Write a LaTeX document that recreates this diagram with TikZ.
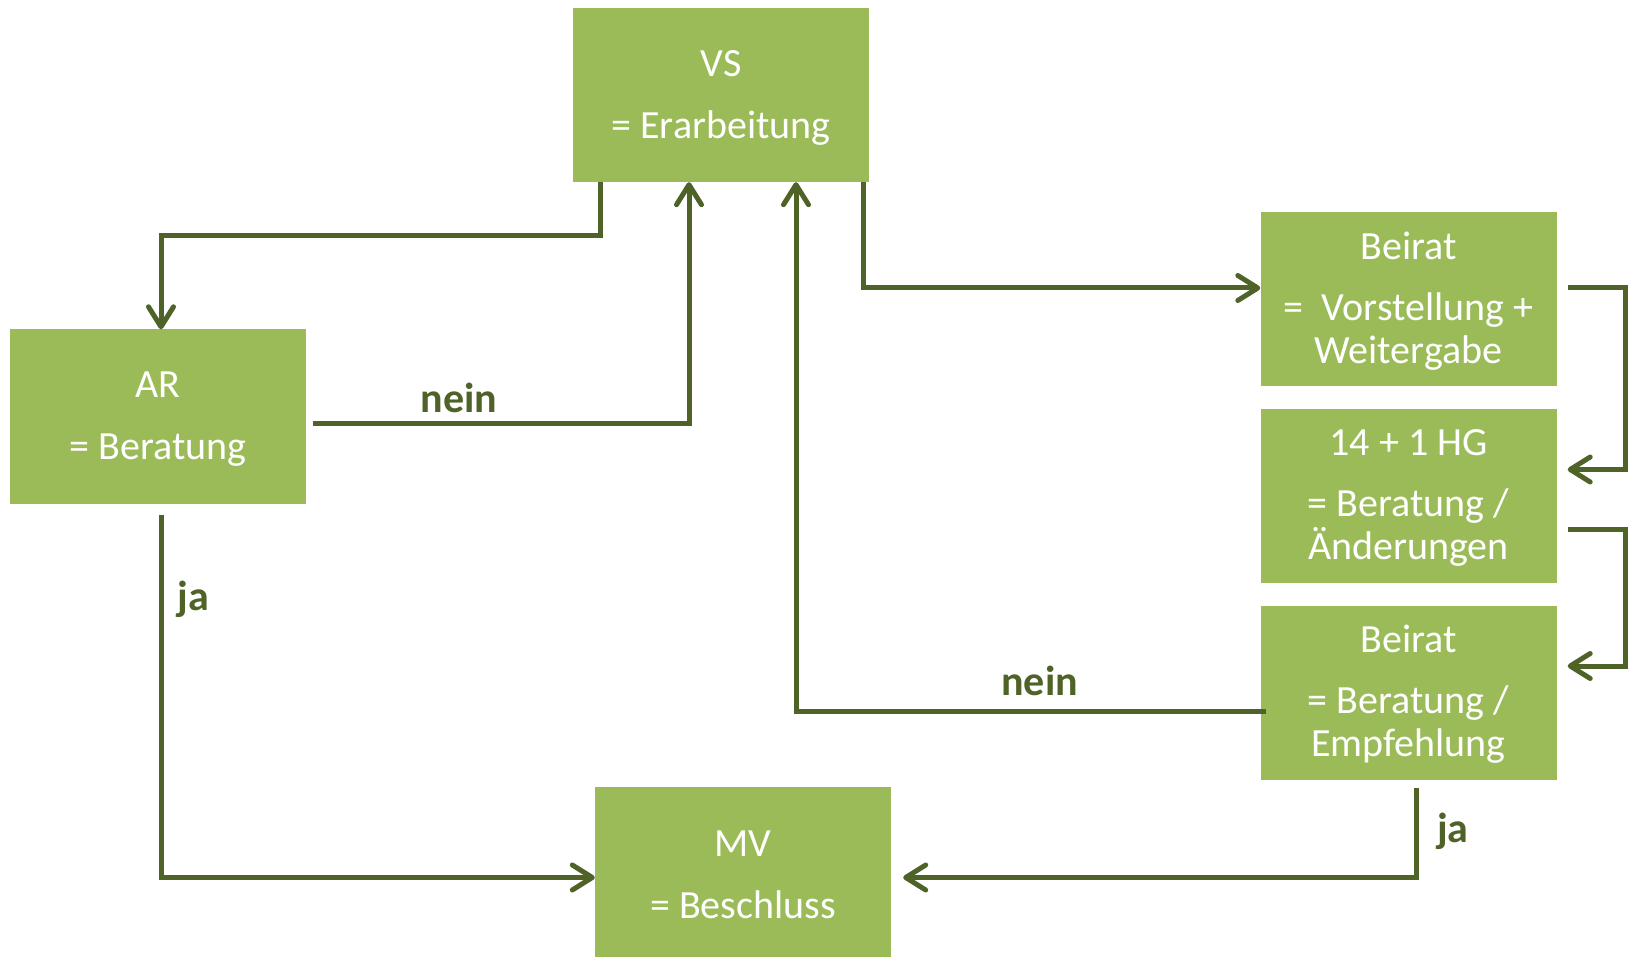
\documentclass[tikz,border=0pt]{standalone}
\usepackage{fontspec}
\setmainfont{Carlito}
\usetikzlibrary{arrows.meta}
\definecolor{boxgreen}{HTML}{9BBB59}
\definecolor{linegreen}{HTML}{4F6228}
\newcommand{\toplift}[1]{\rule{0pt}{#1}}
\begin{document}
\begin{tikzpicture}[x=1pt,y=-1pt,
  box/.style={fill=boxgreen, draw=none, text=white, minimum width=296pt,
    minimum height=174pt, inner sep=0pt, align=center,
    font=\fontsize{40}{43}\selectfont},
  conn/.style={draw=linegreen, line width=5pt,
    -{Straight Barb[length=20pt,width=25pt,round]}},
  lab/.style={text=linegreen, font=\fontsize{42}{44}\selectfont\bfseries,
    anchor=base, inner sep=0pt}]
\useasboundingbox (0,0) rectangle (1628,957);

% boxes
\node[box] (VS) at (721,95) {\toplift{31.5pt}VS\\[19pt]= Erarbeitung};
\node[box] (AR) at (158,416.5) {\toplift{31.5pt}AR\\[19pt]= Beratung};
\node[box] (B1) at (1408.5,299.5) {\toplift{30pt}Beirat\\[18pt]= \ Vorstellung +\\Weitergabe};
\node[box] (HG) at (1408.5,496) {\toplift{30pt}14 + 1 HG\\[18pt]= Beratung /\\Änderungen};
\node[box] (B2) at (1408.5,692.5) {\toplift{30pt}Beirat\\[18pt]= Beratung /\\Empfehlung};
\node[box] (MV) at (743,874) {\toplift{27.5pt}MV\\[19pt]= Beschluss};

% connectors
\draw[conn] ([xshift=-121pt]VS.south) -- ++(0,53) -| ([xshift=3pt]AR.north);
\draw[conn] ([xshift=7pt,yshift=-7pt]AR.east) -| ([xshift=-32pt]VS.south);
\draw[conn] ([xshift=142.5pt]VS.south) |- ([yshift=11.5pt]B1.west);
\draw[conn] ([xshift=11pt,yshift=11.5pt]B1.east) -- ++(58,0)
  |- ([xshift=11pt,yshift=26.5pt]HG.east);
\draw[conn] ([xshift=11pt,yshift=-33pt]HG.east) -- ++(58,0)
  |- ([xshift=11pt,yshift=26.5pt]B2.east);
\draw[conn] ([xshift=6pt,yshift=-18.5pt]B2.west) -| ([xshift=75pt]VS.south);
\draw[conn] ([xshift=3pt,yshift=-11pt]AR.south) |- ([yshift=-3.5pt]MV.west);
\draw[conn] ([xshift=7.5pt,yshift=-8pt]B2.south) |- ([xshift=12pt,yshift=-3.5pt]MV.east);

% labels
\node[lab] (n1) at (459,412.7) {nein};
\node[lab] (n2) at (1039.7,695) {nein};
\node[lab] (j1) at (193.5,610) {ja};
\node[lab] (j2) at (1453,842) {ja};
\end{tikzpicture}
\end{document}
